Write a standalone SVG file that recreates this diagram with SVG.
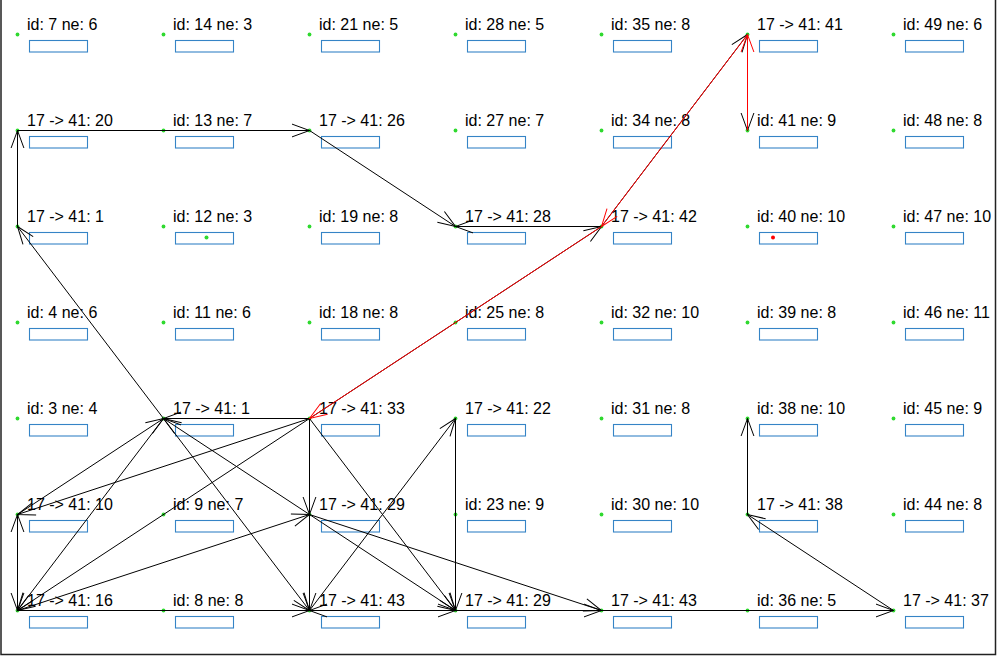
<svg xmlns="http://www.w3.org/2000/svg" width="998" height="656" viewBox="0 0 998 656">
<style>
.dot{fill:#2fd92f}
.lbl{font-family:"Liberation Sans",Arial,sans-serif;font-size:16px;fill:#000}
.box{fill:none;stroke:#3584c6;stroke-width:1.1}
.e{stroke:#000;stroke-width:1;fill:none;marker-end:url(#ah)}
.r{stroke:#f00;stroke-width:1;fill:none;marker-end:url(#ahr)}
</style>
<defs>
<marker id="ah" markerUnits="userSpaceOnUse" markerWidth="20" markerHeight="16" viewBox="-19 -8 20 16" refX="0" refY="0" orient="auto" overflow="visible"><path d="M-17.5,-6.4 L0,0 L-17.5,6.4" fill="none" stroke="#000" stroke-width="1"/></marker>
<marker id="ahr" markerUnits="userSpaceOnUse" markerWidth="20" markerHeight="16" viewBox="-19 -8 20 16" refX="0" refY="0" orient="auto" overflow="visible"><path d="M-17.5,-6.4 L0,0 L-17.5,6.4" fill="none" stroke="#f00" stroke-width="1"/></marker>
</defs>
<rect width="998" height="656" fill="#fff"/>
<polyline points="1,0 1,654.5 995.5,654.5 995.5,0" fill="none" stroke="#222" stroke-width="1.5"/>
<g id="nodes">
<g id="n7" transform="translate(17.5,34.5)"><circle class="dot" r="1.9"/><text class="lbl" x="9.5" y="-4.5">id: 7 ne: 6</text><rect class="box" x="12" y="6" width="58" height="11.5"/></g>
<g id="n6" transform="translate(17.5,130.5)"><circle class="dot" r="1.9"/><text class="lbl" x="9.5" y="-4.5">17 -&gt; 41: 20</text><rect class="box" x="12" y="6" width="58" height="11.5"/></g>
<g id="n5" transform="translate(17.5,226.5)"><circle class="dot" r="1.9"/><text class="lbl" x="9.5" y="-4.5">17 -&gt; 41: 1</text><rect class="box" x="12" y="6" width="58" height="11.5"/></g>
<g id="n4" transform="translate(17.5,322.5)"><circle class="dot" r="1.9"/><text class="lbl" x="9.5" y="-4.5">id: 4 ne: 6</text><rect class="box" x="12" y="6" width="58" height="11.5"/></g>
<g id="n3" transform="translate(17.5,418.5)"><circle class="dot" r="1.9"/><text class="lbl" x="9.5" y="-4.5">id: 3 ne: 4</text><rect class="box" x="12" y="6" width="58" height="11.5"/></g>
<g id="n2" transform="translate(17.5,514.5)"><circle class="dot" r="1.9"/><text class="lbl" x="9.5" y="-4.5">17 -&gt; 41: 10</text><rect class="box" x="12" y="6" width="58" height="11.5"/></g>
<g id="n1" transform="translate(17.5,610.5)"><circle class="dot" r="1.9"/><text class="lbl" x="9.5" y="-4.5">17 -&gt; 41: 16</text><rect class="box" x="12" y="6" width="58" height="11.5"/></g>

<g id="n14" transform="translate(163.5,34.5)"><circle class="dot" r="1.9"/><text class="lbl" x="9.5" y="-4.5">id: 14 ne: 3</text><rect class="box" x="12" y="6" width="58" height="11.5"/></g>
<g id="n13" transform="translate(163.5,130.5)"><circle class="dot" r="1.9"/><text class="lbl" x="9.5" y="-4.5">id: 13 ne: 7</text><rect class="box" x="12" y="6" width="58" height="11.5"/></g>
<g id="n12" transform="translate(163.5,226.5)"><circle class="dot" r="1.9"/><text class="lbl" x="9.5" y="-4.5">id: 12 ne: 3</text><rect class="box" x="12" y="6" width="58" height="11.5"/><circle class="dot" cx="43" cy="11" r="2"/></g>
<g id="n11" transform="translate(163.5,322.5)"><circle class="dot" r="1.9"/><text class="lbl" x="9.5" y="-4.5">id: 11 ne: 6</text><rect class="box" x="12" y="6" width="58" height="11.5"/></g>
<g id="n10" transform="translate(163.5,418.5)"><circle class="dot" r="1.9"/><text class="lbl" x="9.5" y="-4.5">17 -&gt; 41: 1</text><rect class="box" x="12" y="6" width="58" height="11.5"/></g>
<g id="n9" transform="translate(163.5,514.5)"><circle class="dot" r="1.9"/><text class="lbl" x="9.5" y="-4.5">id: 9 ne: 7</text><rect class="box" x="12" y="6" width="58" height="11.5"/></g>
<g id="n8" transform="translate(163.5,610.5)"><circle class="dot" r="1.9"/><text class="lbl" x="9.5" y="-4.5">id: 8 ne: 8</text><rect class="box" x="12" y="6" width="58" height="11.5"/></g>

<g id="n21" transform="translate(309.5,34.5)"><circle class="dot" r="1.9"/><text class="lbl" x="9.5" y="-4.5">id: 21 ne: 5</text><rect class="box" x="12" y="6" width="58" height="11.5"/></g>
<g id="n20" transform="translate(309.5,130.5)"><circle class="dot" r="1.9"/><text class="lbl" x="9.5" y="-4.5">17 -&gt; 41: 26</text><rect class="box" x="12" y="6" width="58" height="11.5"/></g>
<g id="n19" transform="translate(309.5,226.5)"><circle class="dot" r="1.9"/><text class="lbl" x="9.5" y="-4.5">id: 19 ne: 8</text><rect class="box" x="12" y="6" width="58" height="11.5"/></g>
<g id="n18" transform="translate(309.5,322.5)"><circle class="dot" r="1.9"/><text class="lbl" x="9.5" y="-4.5">id: 18 ne: 8</text><rect class="box" x="12" y="6" width="58" height="11.5"/></g>
<g id="n17" transform="translate(309.5,418.5)"><circle class="dot" r="1.9"/><text class="lbl" x="9.5" y="-4.5">17 -&gt; 41: 33</text><rect class="box" x="12" y="6" width="58" height="11.5"/></g>
<g id="n16" transform="translate(309.5,514.5)"><circle class="dot" r="1.9"/><text class="lbl" x="9.5" y="-4.5">17 -&gt; 41: 29</text><rect class="box" x="12" y="6" width="58" height="11.5"/></g>
<g id="n15" transform="translate(309.5,610.5)"><circle class="dot" r="1.9"/><text class="lbl" x="9.5" y="-4.5">17 -&gt; 41: 43</text><rect class="box" x="12" y="6" width="58" height="11.5"/></g>

<g id="n28" transform="translate(455.5,34.5)"><circle class="dot" r="1.9"/><text class="lbl" x="9.5" y="-4.5">id: 28 ne: 5</text><rect class="box" x="12" y="6" width="58" height="11.5"/></g>
<g id="n27" transform="translate(455.5,130.5)"><circle class="dot" r="1.9"/><text class="lbl" x="9.5" y="-4.5">id: 27 ne: 7</text><rect class="box" x="12" y="6" width="58" height="11.5"/></g>
<g id="n26" transform="translate(455.5,226.5)"><circle class="dot" r="1.9"/><text class="lbl" x="9.5" y="-4.5">17 -&gt; 41: 28</text><rect class="box" x="12" y="6" width="58" height="11.5"/></g>
<g id="n25" transform="translate(455.5,322.5)"><circle class="dot" r="1.9"/><text class="lbl" x="9.5" y="-4.5">id: 25 ne: 8</text><rect class="box" x="12" y="6" width="58" height="11.5"/></g>
<g id="n24" transform="translate(455.5,418.5)"><circle class="dot" r="1.9"/><text class="lbl" x="9.5" y="-4.5">17 -&gt; 41: 22</text><rect class="box" x="12" y="6" width="58" height="11.5"/></g>
<g id="n23" transform="translate(455.5,514.5)"><circle class="dot" r="1.9"/><text class="lbl" x="9.5" y="-4.5">id: 23 ne: 9</text><rect class="box" x="12" y="6" width="58" height="11.5"/></g>
<g id="n22" transform="translate(455.5,610.5)"><circle class="dot" r="1.9"/><text class="lbl" x="9.5" y="-4.5">17 -&gt; 41: 29</text><rect class="box" x="12" y="6" width="58" height="11.5"/></g>

<g id="n35" transform="translate(601.5,34.5)"><circle class="dot" r="1.9"/><text class="lbl" x="9.5" y="-4.5">id: 35 ne: 8</text><rect class="box" x="12" y="6" width="58" height="11.5"/></g>
<g id="n34" transform="translate(601.5,130.5)"><circle class="dot" r="1.9"/><text class="lbl" x="9.5" y="-4.5">id: 34 ne: 8</text><rect class="box" x="12" y="6" width="58" height="11.5"/></g>
<g id="n33" transform="translate(601.5,226.5)"><circle class="dot" r="1.9"/><text class="lbl" x="9.5" y="-4.5">17 -&gt; 41: 42</text><rect class="box" x="12" y="6" width="58" height="11.5"/></g>
<g id="n32" transform="translate(601.5,322.5)"><circle class="dot" r="1.9"/><text class="lbl" x="9.5" y="-4.5">id: 32 ne: 10</text><rect class="box" x="12" y="6" width="58" height="11.5"/></g>
<g id="n31" transform="translate(601.5,418.5)"><circle class="dot" r="1.9"/><text class="lbl" x="9.5" y="-4.5">id: 31 ne: 8</text><rect class="box" x="12" y="6" width="58" height="11.5"/></g>
<g id="n30" transform="translate(601.5,514.5)"><circle class="dot" r="1.9"/><text class="lbl" x="9.5" y="-4.5">id: 30 ne: 10</text><rect class="box" x="12" y="6" width="58" height="11.5"/></g>
<g id="n29" transform="translate(601.5,610.5)"><circle class="dot" r="1.9"/><text class="lbl" x="9.5" y="-4.5">17 -&gt; 41: 43</text><rect class="box" x="12" y="6" width="58" height="11.5"/></g>

<g id="n42" transform="translate(747.5,34.5)"><circle class="dot" r="1.9"/><text class="lbl" x="9.5" y="-4.5">17 -&gt; 41: 41</text><rect class="box" x="12" y="6" width="58" height="11.5"/></g>
<g id="n41" transform="translate(747.5,130.5)"><circle class="dot" r="1.9"/><text class="lbl" x="9.5" y="-4.5">id: 41 ne: 9</text><rect class="box" x="12" y="6" width="58" height="11.5"/></g>
<g id="n40" transform="translate(747.5,226.5)"><circle class="dot" r="1.9"/><text class="lbl" x="9.5" y="-4.5">id: 40 ne: 10</text><rect class="box" x="12" y="6" width="58" height="11.5"/><circle cx="25.5" cy="11" r="2" fill="#f00"/></g>
<g id="n39" transform="translate(747.5,322.5)"><circle class="dot" r="1.9"/><text class="lbl" x="9.5" y="-4.5">id: 39 ne: 8</text><rect class="box" x="12" y="6" width="58" height="11.5"/></g>
<g id="n38" transform="translate(747.5,418.5)"><circle class="dot" r="1.9"/><text class="lbl" x="9.5" y="-4.5">id: 38 ne: 10</text><rect class="box" x="12" y="6" width="58" height="11.5"/></g>
<g id="n37" transform="translate(747.5,514.5)"><circle class="dot" r="1.9"/><text class="lbl" x="9.5" y="-4.5">17 -&gt; 41: 38</text><rect class="box" x="12" y="6" width="58" height="11.5"/></g>
<g id="n36" transform="translate(747.5,610.5)"><circle class="dot" r="1.9"/><text class="lbl" x="9.5" y="-4.5">id: 36 ne: 5</text><rect class="box" x="12" y="6" width="58" height="11.5"/></g>

<g id="n49" transform="translate(893.5,34.5)"><circle class="dot" r="1.9"/><text class="lbl" x="9.5" y="-4.5">id: 49 ne: 6</text><rect class="box" x="12" y="6" width="58" height="11.5"/></g>
<g id="n48" transform="translate(893.5,130.5)"><circle class="dot" r="1.9"/><text class="lbl" x="9.5" y="-4.5">id: 48 ne: 8</text><rect class="box" x="12" y="6" width="58" height="11.5"/></g>
<g id="n47" transform="translate(893.5,226.5)"><circle class="dot" r="1.9"/><text class="lbl" x="9.5" y="-4.5">id: 47 ne: 10</text><rect class="box" x="12" y="6" width="58" height="11.5"/></g>
<g id="n46" transform="translate(893.5,322.5)"><circle class="dot" r="1.9"/><text class="lbl" x="9.5" y="-4.5">id: 46 ne: 11</text><rect class="box" x="12" y="6" width="58" height="11.5"/></g>
<g id="n45" transform="translate(893.5,418.5)"><circle class="dot" r="1.9"/><text class="lbl" x="9.5" y="-4.5">id: 45 ne: 9</text><rect class="box" x="12" y="6" width="58" height="11.5"/></g>
<g id="n44" transform="translate(893.5,514.5)"><circle class="dot" r="1.9"/><text class="lbl" x="9.5" y="-4.5">id: 44 ne: 8</text><rect class="box" x="12" y="6" width="58" height="11.5"/></g>
<g id="n43" transform="translate(893.5,610.5)"><circle class="dot" r="1.9"/><text class="lbl" x="9.5" y="-4.5">17 -&gt; 41: 37</text><rect class="box" x="12" y="6" width="58" height="11.5"/></g>
</g>
<g id="connectors">
<line class="e" x1="163.5" y1="418.5" x2="17.5" y2="226.5"/>
<line class="e" x1="17.5" y1="226.5" x2="17.5" y2="130.5"/>
<line class="e" x1="17.5" y1="130.5" x2="309.5" y2="130.5"/>
<line class="e" x1="309.5" y1="130.5" x2="455.5" y2="226.5"/>
<line class="e" x1="601.5" y1="226.5" x2="455.5" y2="226.5"/>
<line class="e" x1="309.5" y1="418.5" x2="601.5" y2="226.5"/>
<line class="e" x1="601.5" y1="226.5" x2="747.5" y2="34.5"/>
<line class="e" x1="747.5" y1="34.5" x2="747.5" y2="130.5"/>
<line class="e" x1="309.5" y1="418.5" x2="163.5" y2="418.5"/>
<line class="e" x1="17.5" y1="514.5" x2="163.5" y2="418.5"/>
<line class="e" x1="309.5" y1="514.5" x2="163.5" y2="418.5"/>
<line class="e" x1="163.5" y1="418.5" x2="17.5" y2="610.5"/>
<line class="e" x1="163.5" y1="418.5" x2="309.5" y2="610.5"/>
<line class="e" x1="309.5" y1="418.5" x2="17.5" y2="514.5"/>
<line class="e" x1="309.5" y1="418.5" x2="17.5" y2="610.5"/>
<line class="e" x1="309.5" y1="418.5" x2="309.5" y2="514.5"/>
<line class="e" x1="309.5" y1="514.5" x2="309.5" y2="610.5"/>
<line class="e" x1="309.5" y1="418.5" x2="455.5" y2="610.5"/>
<line class="e" x1="17.5" y1="610.5" x2="309.5" y2="514.5"/>
<line class="e" x1="309.5" y1="514.5" x2="455.5" y2="610.5"/>
<line class="e" x1="309.5" y1="514.5" x2="601.5" y2="610.5"/>
<line class="e" x1="309.5" y1="610.5" x2="455.5" y2="418.5"/>
<line class="e" x1="455.5" y1="418.5" x2="455.5" y2="610.5"/>
<line class="e" x1="17.5" y1="514.5" x2="17.5" y2="610.5"/>
<line class="e" x1="17.5" y1="610.5" x2="17.5" y2="514.5"/>
<line class="e" x1="17.5" y1="610.5" x2="309.5" y2="610.5"/>
<line class="e" x1="455.5" y1="610.5" x2="309.5" y2="610.5"/>
<line class="e" x1="309.5" y1="610.5" x2="455.5" y2="610.5"/>
<line class="e" x1="455.5" y1="610.5" x2="601.5" y2="610.5"/>
<line class="e" x1="601.5" y1="610.5" x2="893.5" y2="610.5"/>
<line class="e" x1="893.5" y1="610.5" x2="747.5" y2="514.5"/>
<line class="e" x1="747.5" y1="514.5" x2="747.5" y2="418.5"/>
<line class="r" x1="747.5" y1="130.5" x2="747.5" y2="34.5"/>
<line class="r" x1="747.5" y1="34.5" x2="601.5" y2="226.5"/>
<line class="r" x1="601.5" y1="226.5" x2="309.5" y2="418.5"/>
</g>
</svg>
